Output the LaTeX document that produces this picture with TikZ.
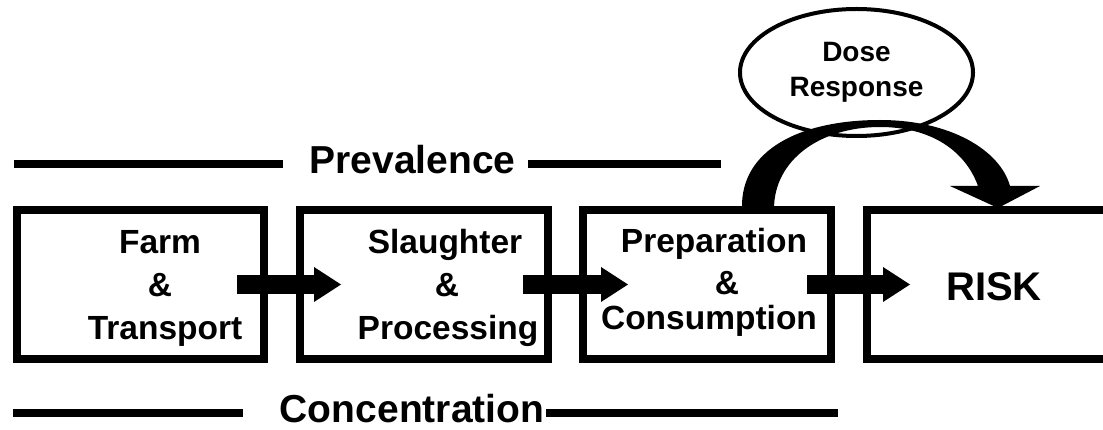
\documentclass[tikz,border=0pt]{standalone}
\usepackage{fontspec}
\setmainfont{Liberation Sans}
\usetikzlibrary{arrows.meta,calc,shapes.geometric}
\newcommand{\boxfont}{\fontsize{33.5}{40}\selectfont\bfseries}
\newcommand{\titlefont}{\fontsize{39}{46}\selectfont\bfseries}
\newcommand{\riskfont}{\fontsize{40}{48}\selectfont\bfseries}
\newcommand{\dosefont}{\fontsize{28}{35}\selectfont\bfseries}
\begin{document}
\begin{tikzpicture}[x=1pt,y=-1pt,
  stagebox/.style={draw, line width=8pt, minimum height=149pt, inner sep=0pt, outer sep=0pt},
  lbl/.style={font=\boxfont, anchor=base, inner sep=0pt},
  title/.style={font=\titlefont, anchor=base, inner sep=0pt},
  rule/.style={line width=7.5pt},
  blockarrow/.style={line width=19pt, -{Triangle[length=27pt, width=35pt, line width=0pt]}}]
\useasboundingbox (0,0) rectangle (1103,430);
\fill[white] (0,0) rectangle (1103,430);
\clip (0,0) rectangle (1103,430);

% stage boxes
\node[stagebox, minimum width=247.3pt] (farm) at (140.35,284.5) {};
\node[stagebox, minimum width=248pt] (slau) at (424,284.5) {};
\node[stagebox, minimum width=247.5pt] (prep) at (706.75,284.5) {};
\node[stagebox, minimum width=248pt] (risk) at (991,284.5) {};

% box texts
\node[lbl] (f1) at (160,254) {Farm};
\node[lbl] (f2) at (160,297) {\&};
\node[lbl] (f3) at (165,339) {Transport};
\node[lbl] (s1) at (445,254) {Slaughter};
\node[lbl] (s2) at (447,297) {\&};
\node[lbl] (s3) at (448,339) {Processing};
\node[lbl] (p1) at (714,253) {Preparation};
\node[lbl] (p2) at (727,295) {\&};
\node[lbl] (p3) at (709,330) {Consumption};
\node[font=\riskfont, anchor=base, inner sep=0pt] (rt) at (994,301) {RISK};

% straight block arrows
\draw[blockarrow] ($(farm.east)+(-27,0)$) -- ($(slau.west)+(41,0)$);
\draw[blockarrow] ($(slau.east)+(-25,0)$) -- ($(prep.west)+(45,0)$);
\draw[blockarrow] ($(prep.east)+(-23.5,0)$) -- ($(risk.west)+(43,0)$);

% Prevalence
\node[title] (prev) at (412.5,174) {Prevalence};
\coordinate (pvA) at (14,164);
\coordinate (pvB) at (283,164);
\coordinate (pvC) at (528,164);
\coordinate (pvD) at (721,164);
\draw[rule] (pvA) -- (pvB);
\draw[rule] (pvC) -- (pvD);

% Concentration
\node[title] (conc) at (412,422.5) {Concentration};
\coordinate (ccA) at (13,413);
\coordinate (ccB) at (243,413);
\coordinate (ccC) at (546,413);
\coordinate (ccD) at (838,413);
\draw[rule] (ccA) -- (ccB);
\draw[rule] (ccC) -- (ccD);

% curved dose-response arrow
\fill (742,209) .. controls (740,150) and (800,120) .. (880,120)
  .. controls (950,120) and (1000,150) .. (1010,186)
  -- (1040,186) -- (998,208) -- (950,186) -- (978,186)
  .. controls (965,150) and (930,127) .. (880,127)
  .. controls (820,127) and (774,160) .. (774,209) -- cycle;

% dose response ellipse
\node[ellipse, draw, line width=4pt, minimum width=233pt, minimum height=127pt,
  inner sep=0pt, outer sep=0pt, align=center, font=\dosefont] (dose) at (856.5,72.5) {Dose\\Response};
\end{tikzpicture}
\end{document}
